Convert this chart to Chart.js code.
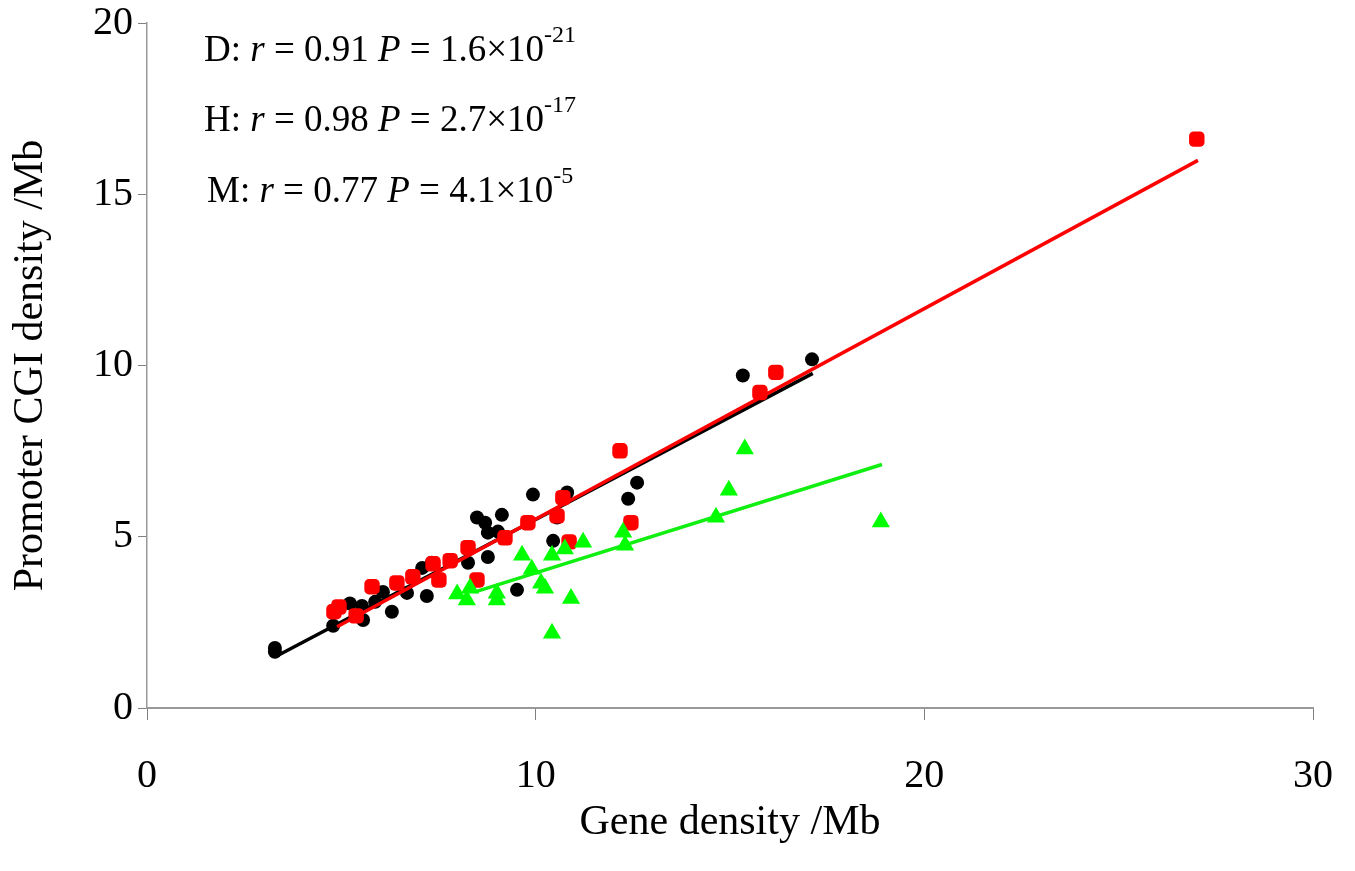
<!DOCTYPE html>
<html>
<head>
<meta charset="utf-8">
<script src="https://cdn.jsdelivr.net/npm/chart.js@4/dist/chart.umd.min.js"></script>
<style>
  html, body { margin: 0; padding: 0; background: #fff; }
  canvas { display: block; }
</style>
</head>
<body>
<canvas id="c" width="1355" height="871"></canvas>
<script>
// ---- Data ----
const dX = [3.29, 3.29, 4.79, 5.22, 5.53, 5.56, 5.87, 6.07, 6.30, 6.69, 7.20, 7.08, 7.33, 8.26, 8.77, 9.52, 8.49, 8.70, 9.13, 8.77, 9.03, 9.93, 10.81, 10.55, 10.45, 12.38, 12.61, 15.33, 17.11];
const dY = [1.75, 1.64, 2.40, 3.05, 2.98, 2.57, 3.10, 3.39, 2.81, 3.36, 3.27, 4.09, 4.24, 4.24, 4.41, 3.45, 5.56, 5.41, 5.64, 5.12, 5.15, 6.23, 6.29, 5.56, 4.88, 6.11, 6.58, 9.71, 10.18];

const hX = [4.81, 4.94, 5.38, 5.79, 6.43, 6.84, 7.36, 7.51, 7.80, 8.26, 8.49, 9.21, 9.80, 10.55, 10.70, 10.86, 12.17, 12.45, 15.77, 16.18, 27.01];
const hY = [2.81, 2.95, 2.69, 3.54, 3.65, 3.83, 4.21, 3.74, 4.30, 4.68, 3.74, 4.97, 5.41, 5.61, 6.14, 4.85, 7.51, 5.41, 9.21, 9.80, 16.61];

const mX = [7.98, 8.31, 8.23, 9.00, 9.00, 9.65, 9.90, 10.14, 10.24, 10.42, 10.42, 10.75, 10.91, 11.22, 12.25, 12.30, 14.64, 14.97, 15.38, 18.88];
const mY = [3.33, 3.50, 3.15, 3.35, 3.15, 4.46, 4.05, 3.64, 3.50, 4.46, 2.18, 4.64, 3.20, 4.84, 5.13, 4.75, 5.57, 6.36, 7.56, 5.43];

// trend-line end points
const dLineX = [3.29, 17.13];
const dLineY = [1.49, 9.77];
const hLineX = [4.89, 27.04];
const hLineY = [2.37, 15.99];
const mLineX = [8.44, 18.91];
const mLineY = [3.39, 7.11];

// axis ticks
const xTicks = [0, 10, 20, 30];
const yTicks = [0, 5, 10, 15, 20];

// annotation texts
const annoLabels = ['D', 'H', 'M'];
const annoR = ['0.91', '0.98', '0.77'];
const annoP = ['1.6', '2.7', '4.1'];
const annoExp = ['-21', '-17', '-5'];

// ---- Helpers ----
const pts = (xs, ys) => xs.map((x, i) => ({ x: x, y: ys[i] }));
const FONT = '"Liberation Serif", "Times New Roman", serif';

const annotationPlugin = {
  id: 'anno',
  afterDraw(chart) {
    const ctx = chart.ctx;
    ctx.save();
    ctx.fillStyle = '#000';
    ctx.textBaseline = 'alphabetic';
    ctx.textAlign = 'left';
    const xs = [204, 204, 207];
    const ys = [61, 131, 202];
    for (let i = 0; i < annoLabels.length; i++) {
      const parts = [
        { t: annoLabels[i] + ': ', it: false },
        { t: 'r', it: true },
        { t: ' = ' + annoR[i] + ' ', it: false },
        { t: 'P', it: true },
        { t: ' = ' + annoP[i] + '\u00D710', it: false },
        { t: annoExp[i], it: false, sup: true }
      ];
      let x = xs[i];
      for (const p of parts) {
        const size = p.sup ? 24 : 37;
        ctx.font = (p.it ? 'italic ' : '') + size + 'px ' + FONT;
        const y = p.sup ? ys[i] - 19 : ys[i];
        ctx.fillText(p.t, x, y);
        x += ctx.measureText(p.t).width;
      }
    }
    ctx.restore();
  }
};

const ctx = document.getElementById('c').getContext('2d');
new Chart(ctx, {
  type: 'scatter',
  data: {
    datasets: [
      { label: 'M', data: pts(mX, mY), pointStyle: 'triangle', pointRadius: 10.5, backgroundColor: '#00ff00', borderColor: '#00ff00', borderWidth: 0, order: 0 },
      { label: 'M fit', type: 'line', data: pts(mLineX, mLineY), borderColor: '#11ee11', borderWidth: 3.5, pointRadius: 0, fill: false, order: 1 },
      { label: 'H', data: pts(hX, hY), pointStyle: 'rectRounded', pointRadius: 9, backgroundColor: '#ff0000', borderColor: '#ff0000', borderWidth: 0, order: 2 },
      { label: 'H fit', type: 'line', data: pts(hLineX, hLineY), borderColor: '#ff0000', borderWidth: 3.5, pointRadius: 0, fill: false, order: 3 },
      { label: 'D', data: pts(dX, dY), pointStyle: 'circle', pointRadius: 7, backgroundColor: '#000000', borderColor: '#000000', borderWidth: 0, order: 4 },
      { label: 'D fit', type: 'line', data: pts(dLineX, dLineY), borderColor: '#000000', borderWidth: 3.5, pointRadius: 0, fill: false, order: 5 }
    ]
  },
  options: {
    responsive: false,
    animation: false,
    devicePixelRatio: 1,
    layout: { padding: { left: 0, right: 42, top: 23, bottom: 0 } },
    plugins: { legend: { display: false }, tooltip: { enabled: false } },
    scales: {
      x: {
        type: 'linear', min: 0, max: 30,
        afterBuildTicks(s) { s.ticks = xTicks.map(v => ({ value: v })); },
        afterFit(s) { s.height = 871 - 708; s.paddingRight = 0; s.paddingLeft = 0; },
        ticks: { color: '#000', font: { family: FONT, size: 40, lineHeight: 1 }, padding: 36, maxRotation: 0 },
        grid: { drawOnChartArea: false, drawTicks: true, tickLength: 12, tickColor: '#808080', tickWidth: 1 },
        border: { color: '#999999', width: 2 },
        title: { display: true, text: 'Gene density /Mb', color: '#000', font: { family: FONT, size: 42 }, padding: { top: 0, bottom: 23 } }
      },
      y: {
        type: 'linear', min: 0, max: 20,
        afterBuildTicks(s) { s.ticks = yTicks.map(v => ({ value: v })); },
        afterFit(s) { s.width = 147; s.paddingTop = 0; s.paddingBottom = 0; },
        ticks: { color: '#000', font: { family: FONT, size: 40, lineHeight: 1 }, padding: 5 },
        grid: { drawOnChartArea: false, drawTicks: true, tickLength: 9, tickColor: '#808080', tickWidth: 1 },
        border: { color: '#999999', width: 1.5 },
        title: { display: true, text: 'Promoter CGI density /Mb', color: '#000', font: { family: FONT, size: 42 }, padding: { top: 6, bottom: 0 } }
      }
    }
  },
  plugins: [annotationPlugin]
});
</script>
</body>
</html>
